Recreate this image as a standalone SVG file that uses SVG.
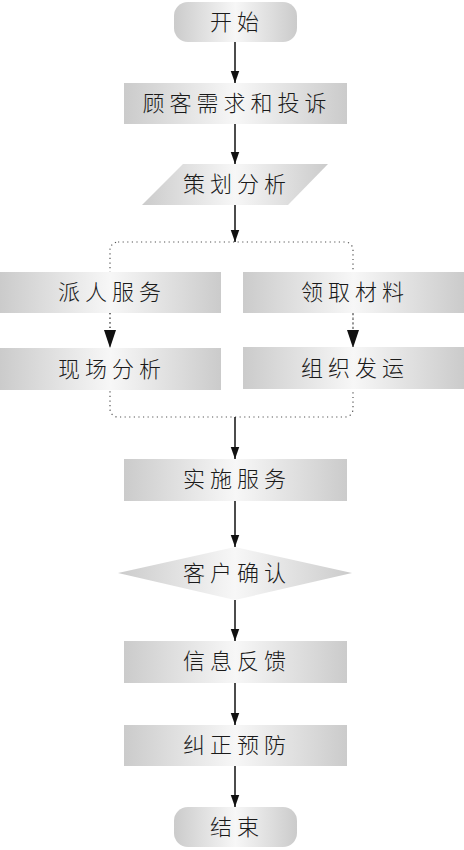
<svg xmlns="http://www.w3.org/2000/svg" width="464" height="850" viewBox="0 0 464 850">
<style>
.t{font-family:"Noto Sans CJK SC","Liberation Sans",sans-serif;font-weight:300;font-size:22px;fill:#1a1a1a;text-anchor:middle;letter-spacing:5px}
.s{fill:url(#g)}
.ln{stroke:#111;stroke-width:1.5;fill:none}
.dot{stroke:#555;stroke-width:1.2;fill:none;stroke-dasharray:1.2 3.4}
</style>
<defs>
<linearGradient id="g" x1="0" y1="0" x2="1" y2="0">
<stop offset="0" stop-color="#cbcbcb"/>
<stop offset="0.5" stop-color="#f7f7f7"/>
<stop offset="1" stop-color="#cbcbcb"/>
</linearGradient>
<marker id="b" markerWidth="12" markerHeight="17" refX="17" refY="6" orient="auto" markerUnits="userSpaceOnUse" viewBox="0 0 17 12">
<path d="M0,0 L17,6 L0,12 Z" fill="#111"/>
</marker>
</defs>
<g id="connectors">
<rect class="dot" x="110" y="242" width="243" height="175" rx="8"/>
<line class="ln" x1="235" y1="42" x2="235" y2="83" marker-end="url(#b)"/>
<line class="ln" x1="235" y1="124" x2="235" y2="164" marker-end="url(#b)"/>
<line class="ln" x1="235" y1="205" x2="235" y2="242" marker-end="url(#b)"/>
<line class="dot" x1="110" y1="313" x2="110" y2="332"/>
<line class="dot" x1="353" y1="313" x2="353" y2="332"/>
<path d="M104,330 L116,330 L110,348 Z" fill="#111"/>
<path d="M347,330 L359,330 L353,348 Z" fill="#111"/>
<line class="ln" x1="235" y1="417" x2="235" y2="459" marker-end="url(#b)"/>
<line class="ln" x1="235" y1="501" x2="235" y2="547" marker-end="url(#b)"/>
<line class="ln" x1="235" y1="600" x2="235" y2="641" marker-end="url(#b)"/>
<line class="ln" x1="235" y1="683" x2="235" y2="725" marker-end="url(#b)"/>
<line class="ln" x1="235" y1="766" x2="235" y2="807" marker-end="url(#b)"/>
</g>
<g id="start"><rect class="s" x="174" y="2" width="123" height="40" rx="14"/><text class="t" x="237" y="30">开始</text></g>
<g id="n1"><rect class="s" x="124" y="83" width="223" height="41"/><text class="t" x="237" y="111">顾客需求和投诉</text></g>
<g id="n2"><polygon class="s" points="183,164 328,164 288,205 142,205"/><text class="t" x="237" y="192">策划分析</text></g>
<g id="n3"><rect class="s" x="0" y="272" width="221" height="41"/><text class="t" x="112" y="300">派人服务</text></g>
<g id="n4"><rect class="s" x="243" y="272" width="221" height="41"/><text class="t" x="355" y="300">领取材料</text></g>
<g id="n5"><rect class="s" x="0" y="348" width="221" height="42"/><text class="t" x="112" y="377">现场分析</text></g>
<g id="n6"><rect class="s" x="243" y="347" width="221" height="42"/><text class="t" x="355" y="376">组织发运</text></g>
<g id="n7"><rect class="s" x="124" y="459" width="223" height="42"/><text class="t" x="237" y="487">实施服务</text></g>
<g id="n8"><polygon class="s" points="235,547 352,573 235,600 118,573"/><text class="t" x="237" y="581">客户确认</text></g>
<g id="n9"><rect class="s" x="124" y="641" width="223" height="42"/><text class="t" x="237" y="669">信息反馈</text></g>
<g id="n10"><rect class="s" x="124" y="725" width="223" height="41"/><text class="t" x="237" y="753">纠正预防</text></g>
<g id="end"><rect class="s" x="174" y="807" width="123" height="40" rx="14"/><text class="t" x="237" y="835">结束</text></g>
</svg>
